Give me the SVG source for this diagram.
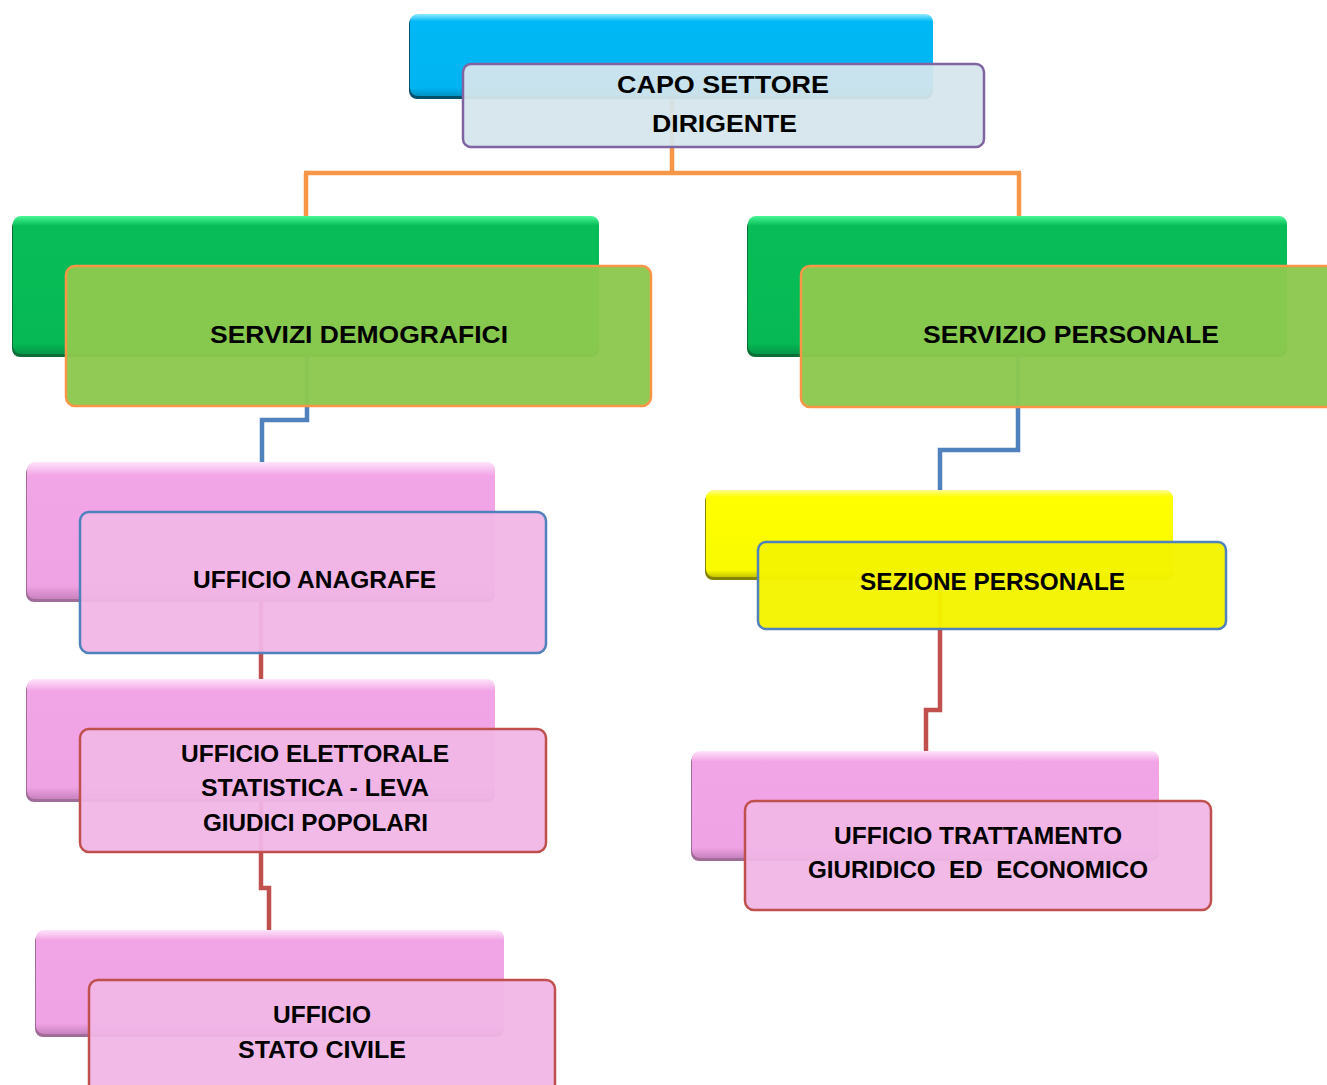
<svg xmlns="http://www.w3.org/2000/svg" width="1327" height="1085" viewBox="0 0 1327 1085">
<defs>
<linearGradient id="gBlue" x1="0" y1="0" x2="0" y2="1">
<stop offset="0" stop-color="#8eeaff"/><stop offset="0.09" stop-color="#00b8f5"/><stop offset="0.9" stop-color="#00b4f1"/><stop offset="1" stop-color="#0092c6"/>
</linearGradient>
<linearGradient id="gGreen" x1="0" y1="0" x2="0" y2="1">
<stop offset="0" stop-color="#48f795"/><stop offset="0.07" stop-color="#08bd57"/><stop offset="0.92" stop-color="#06b954"/><stop offset="1" stop-color="#05984a"/>
</linearGradient>
<linearGradient id="gPink" x1="0" y1="0" x2="0" y2="1">
<stop offset="0" stop-color="#ffe4fb"/><stop offset="0.1" stop-color="#f2a5e6"/><stop offset="0.9" stop-color="#f0a3e4"/><stop offset="1" stop-color="#c982bf"/>
</linearGradient>
<linearGradient id="gYellow" x1="0" y1="0" x2="0" y2="1">
<stop offset="0" stop-color="#ffff90"/><stop offset="0.08" stop-color="#ffff00"/><stop offset="0.92" stop-color="#fafa00"/><stop offset="1" stop-color="#c8c800"/>
</linearGradient>
<style>
.conn{fill:none;stroke-width:4.5;stroke-linejoin:miter}
.or{stroke:#f79646}.bl{stroke:#4f81bd}.rd{stroke:#c0504d}
.shB{fill:#00506e}.shG{fill:#0e6e38}.shP{fill:#a06c98}.shY{fill:#858500}
.front{stroke-width:2.5}
.fTop{fill:#d5e6ec;fill-opacity:0.94;stroke:#8064a2}
.fGreen{fill:#8dc94e;fill-opacity:0.96;stroke:#f79646}
.fPinkB{fill:#f0b6e6;fill-opacity:0.95;stroke:#4f81bd}
.fPinkR{fill:#f0b6e6;fill-opacity:0.95;stroke:#c0504d}
.fYel{fill:#f4f400;fill-opacity:0.97;stroke:#4f81bd}
text{font-family:"Liberation Sans",Arial,sans-serif;font-weight:bold;font-size:23px;fill:#000;text-anchor:start}
</style>
</defs>
<g id="connectors">
<path class="conn or" d="M672,97 V173 M304,173 H1021 M306,173 V216 M1019,173 V216"/>
<path class="conn bl" d="M307,355 V420 H262 V462"/>
<path class="conn bl" d="M1018,357 V450 H940 V490"/>
<path class="conn rd" d="M261,601 V679"/>
<path class="conn rd" d="M261,801 V888 H269 V930"/>
<path class="conn rd" d="M940,579 V710 H926 V751"/>
</g>
<g id="capo-settore">
<rect class="shB" x="409" y="16" width="524" height="83" rx="8"/>
<rect x="410" y="14" width="523" height="82" rx="8" fill="url(#gBlue)"/>
<rect class="front fTop" x="463" y="64" width="521" height="83" rx="8"/>
<text x="617" y="93" textLength="212" lengthAdjust="spacingAndGlyphs">CAPO SETTORE</text>
<text x="652" y="132" textLength="145" lengthAdjust="spacingAndGlyphs">DIRIGENTE</text>
</g>
<g id="servizi-demografici">
<rect class="shG" x="12" y="219" width="587" height="138" rx="8"/>
<rect x="13" y="216" width="586" height="138" rx="8" fill="url(#gGreen)"/>
<rect class="front fGreen" x="66" y="266" width="585" height="140" rx="9"/>
<text x="210" y="343" textLength="298" lengthAdjust="spacingAndGlyphs">SERVIZI DEMOGRAFICI</text>
</g>
<g id="servizio-personale">
<rect class="shG" x="747" y="219" width="540" height="138" rx="8"/>
<rect x="748" y="216" width="539" height="138" rx="8" fill="url(#gGreen)"/>
<rect class="front fGreen" x="801" y="266" width="560" height="141" rx="9"/>
<text x="923" y="343" textLength="296" lengthAdjust="spacingAndGlyphs">SERVIZIO PERSONALE</text>
</g>
<g id="ufficio-anagrafe">
<rect class="shP" x="26" y="465" width="469" height="137" rx="8"/>
<rect x="27" y="462" width="468" height="137" rx="8" fill="url(#gPink)"/>
<rect class="front fPinkB" x="80" y="512" width="466" height="141" rx="9"/>
<text x="193" y="588" textLength="243" lengthAdjust="spacingAndGlyphs">UFFICIO ANAGRAFE</text>
</g>
<g id="ufficio-elettorale">
<rect class="shP" x="26" y="682" width="469" height="120" rx="8"/>
<rect x="27" y="679" width="468" height="120" rx="8" fill="url(#gPink)"/>
<rect class="front fPinkR" x="80" y="729" width="466" height="123" rx="9"/>
<text x="181" y="762" textLength="268" lengthAdjust="spacingAndGlyphs">UFFICIO ELETTORALE</text>
<text x="201" y="796" textLength="228" lengthAdjust="spacingAndGlyphs">STATISTICA - LEVA</text>
<text x="203" y="831" textLength="225" lengthAdjust="spacingAndGlyphs">GIUDICI POPOLARI</text>
</g>
<g id="ufficio-stato-civile">
<rect class="shP" x="35" y="933" width="469" height="104" rx="8"/>
<rect x="36" y="930" width="468" height="104" rx="8" fill="url(#gPink)"/>
<rect class="front fPinkR" x="89" y="980" width="466" height="115" rx="9"/>
<text x="273" y="1023" textLength="98" lengthAdjust="spacingAndGlyphs">UFFICIO</text>
<text x="238" y="1058" textLength="168" lengthAdjust="spacingAndGlyphs">STATO CIVILE</text>
</g>
<g id="sezione-personale">
<rect class="shY" x="705" y="493" width="468" height="87" rx="8"/>
<rect x="706" y="490" width="467" height="87" rx="8" fill="url(#gYellow)"/>
<rect class="front fYel" x="758" y="542" width="468" height="87" rx="8"/>
<text x="860" y="590" textLength="265" lengthAdjust="spacingAndGlyphs">SEZIONE PERSONALE</text>
</g>
<g id="ufficio-trattamento">
<rect class="shP" x="691" y="754" width="468" height="107" rx="8"/>
<rect x="692" y="751" width="467" height="107" rx="8" fill="url(#gPink)"/>
<rect class="front fPinkR" x="745" y="801" width="466" height="109" rx="9"/>
<text x="834" y="844" textLength="288" lengthAdjust="spacingAndGlyphs">UFFICIO TRATTAMENTO</text>
<text x="808" y="878" textLength="340" lengthAdjust="spacingAndGlyphs" xml:space="preserve">GIURIDICO  ED  ECONOMICO</text>
</g>
</svg>
